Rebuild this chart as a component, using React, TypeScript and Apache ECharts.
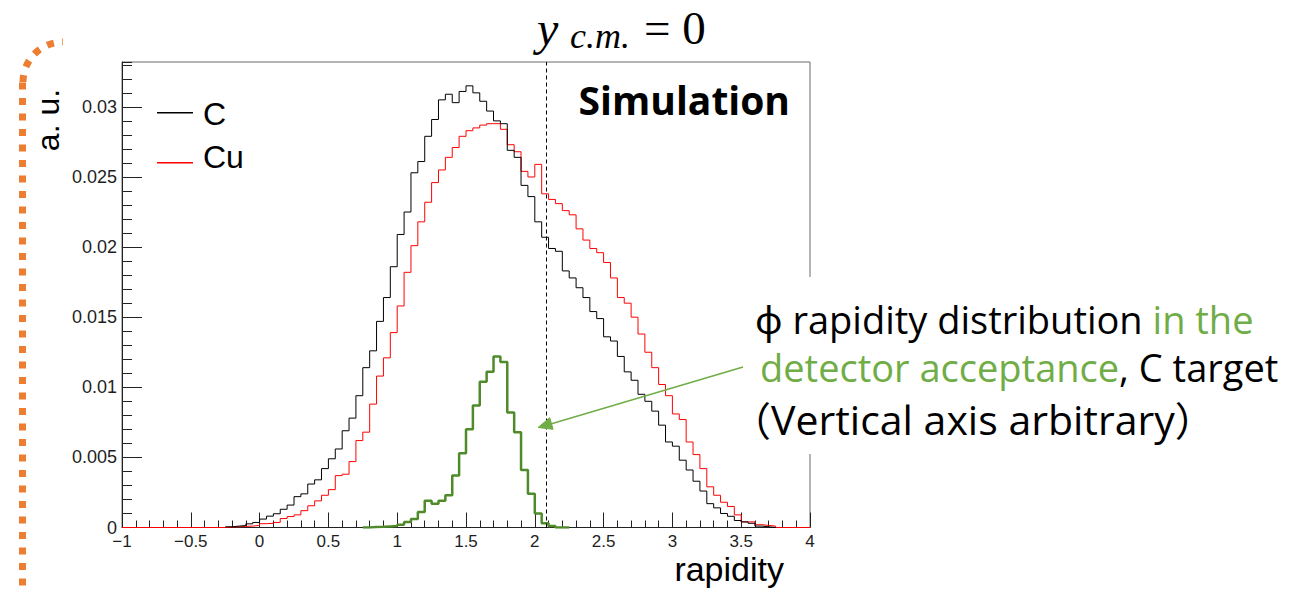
import React, { useEffect, useRef } from "react";
import * as echarts from "echarts";

// Histogram binning (rapidity), 100 bins of 0.05 from -1 to 4
const BIN_START = -1;
const BIN_WIDTH = 0.05;
const Y_CM = 2.085;

const X_MIN = -1;
const X_MAX = 4;
const X_INTERVAL = 0.5;
const Y_MIN = 0;
const Y_MAX = 0.0332;
const Y_INTERVAL = 0.005;
const Y_MINOR_INTERVAL = 0.001;

// C target (black)
const cValues: (number | null)[] = [
  null, null, null, null, null, null, null, null, null, null,
  null, null, null, null, null, 0.00005, 0.0001, 0.00014, 0.00026, 0.00036,
  0.0006, 0.00081, 0.00098, 0.0013, 0.0016, 0.0022, 0.0024, 0.0031, 0.0034, 0.0042,
  0.0049, 0.0056, 0.0069, 0.0078, 0.0094, 0.0114, 0.0126, 0.0147, 0.0164, 0.0186,
  0.0209, 0.0225, 0.0253, 0.0261, 0.0279, 0.0291, 0.0305, 0.0309, 0.0303, 0.0311,
  0.0315, 0.031, 0.0304, 0.0297, 0.029, 0.0288, 0.0269, 0.0264, 0.0244, 0.0236,
  0.0218, 0.0207, 0.0199, 0.0197, 0.0183, 0.0178, 0.0171, 0.0164, 0.0154, 0.0149,
  0.0136, 0.0133, 0.0122, 0.0111, 0.0105, 0.0095, 0.009, 0.0083, 0.0073, 0.0061,
  0.0058, 0.0048, 0.0041, 0.0033, 0.0026, 0.0017, 0.0014, 0.001, 0.0008, 0.0005,
  0.0004, 0.0003, 0.0001, 0.00005, 0, null, null, null, null, null,
];

// Cu target (red)
const cuValues: (number | null)[] = [
  0, 0, 0, 0, 0, 0, 0, 0, 0, 0,
  0, 0, 0, 0, 0, 0.00003, 0.00005, 0.00008, 0.0001, 0.00015,
  0.00027, 0.0003, 0.00036, 0.00064, 0.00078, 0.0009, 0.0012, 0.00155, 0.0019, 0.0023,
  0.0027, 0.0037, 0.0038, 0.0047, 0.0062, 0.0068, 0.0088, 0.0108, 0.0121, 0.0139,
  0.0158, 0.0182, 0.0201, 0.0218, 0.0232, 0.0246, 0.0255, 0.0264, 0.0271, 0.0279,
  0.0283, 0.0285, 0.0287, 0.0288, 0.0288, 0.0284, 0.0273, 0.0268, 0.0254, 0.025,
  0.0259, 0.0238, 0.0234, 0.0231, 0.0226, 0.0223, 0.0213, 0.0205, 0.0199, 0.0196,
  0.0189, 0.0178, 0.0164, 0.016, 0.015, 0.0138, 0.0125, 0.0114, 0.0102, 0.0094,
  0.0081, 0.0077, 0.0061, 0.0052, 0.0042, 0.0029, 0.0023, 0.0018, 0.0015, 0.0009,
  0.0004, 0.0004, 0.0002, 0.00015, 0.0001, 0, 0, 0, 0, 0,
];

// phi in detector acceptance, C target (green)
const phiValues: (number | null)[] = [
  null, null, null, null, null, null, null, null, null, null,
  null, null, null, null, null, null, null, null, null, null,
  null, null, null, null, null, null, null, null, null, null,
  null, null, null, null, null, 0, 0.00003, 0.00005, 0.00008, 0.0001,
  0.0002, 0.0004, 0.0006, 0.0011, 0.0019, 0.0017, 0.0019, 0.0023, 0.0037, 0.0053,
  0.007, 0.0087, 0.0104, 0.0111, 0.0122, 0.0118, 0.0082, 0.0068, 0.0041, 0.0024,
  0.001, 0.0003, 0.0001, 0, 0, null, null, null, null, null,
  null, null, null, null, null, null, null, null, null, null,
  null, null, null, null, null, null, null, null, null, null,
  null, null, null, null, null, null, null, null, null, null,
];

function toSteps(values: (number | null)[]): [number, number][] {
  const pts: [number, number][] = [];
  values.forEach((v, k) => {
    if (v == null) return;
    pts.push([+(BIN_START + k * BIN_WIDTH).toFixed(4), v]);
    if (k === values.length - 1 || values[k + 1] == null) {
      pts.push([+(BIN_START + (k + 1) * BIN_WIDTH).toFixed(4), v]);
    }
  });
  return pts;
}

const AXIS_FONT = '"Liberation Sans", Arial, sans-serif';
const TEXT_FONT = '"Open Sans", "Noto Sans", "Noto Sans CJK JP", sans-serif';
const CJK_FONT = '"Noto Sans CJK JP", "Noto Sans CJK SC", sans-serif';
const SERIF = '"Liberation Serif", "DejaVu Serif", serif';
const GREEN_TXT = "#70ad47";
const ORANGE = "#ed7d31";

function txt(x: number, y: number, text: string, extra: any = {}, elExtra: any = {}) {
  const align = extra.align || "left";
  const va = extra.verticalAlign || "middle";
  return {
    type: "text",
    x,
    y,
    z: 101,
    ...elExtra,
    style: {
      text,
      fill: "#000",
      fontFamily: AXIS_FONT,
      fontSize: 32,
      ...extra,
      align,
      verticalAlign: va,
      textAlign: align,
      textVerticalAlign: va,
    },
  };
}

export default function App() {
  const ref = useRef<HTMLDivElement>(null);
  useEffect(() => {
    const chart = echarts.init(ref.current!, null, { renderer: "svg" });
    const richBase = { fontFamily: TEXT_FONT, fontSize: 38 };
    const rich3 = { fontFamily: TEXT_FONT, fontSize: 41 };
    const option: any = {
      animation: false,
      backgroundColor: "#fff",
      grid: {
        left: 122,
        right: 488,
        top: 62,
        bottom: 64.5,
        show: true,
        borderColor: "#6a6a6a",
        borderWidth: 1,
        containLabel: false,
        outerBoundsMode: "none",
      },
      xAxis: {
        type: "value",
        min: X_MIN,
        max: X_MAX,
        interval: X_INTERVAL,
        axisLine: { show: true, onZero: false, lineStyle: { color: "#222", width: 1 } },
        axisTick: { show: true, inside: true, length: 15, lineStyle: { color: "#222" } },
        minorTick: { show: true, splitNumber: 5, length: 7, lineStyle: { color: "#222" } },
        splitLine: { show: false },
        minorSplitLine: { show: false },
        axisLabel: {
          margin: 7,
          fontSize: 17,
          lineHeight: 14,
          fontFamily: AXIS_FONT,
          color: "#1e1e1e",
          formatter: (v: number) => (v < 0 ? "\u2212" + Math.abs(v) : String(v)),
        },
      },
      yAxis: [
        {
          type: "value",
          min: Y_MIN,
          max: Y_MAX,
          interval: Y_INTERVAL,
          position: "left",
          axisLine: { show: true, onZero: false, lineStyle: { color: "#222", width: 1 } },
          axisTick: { show: true, inside: true, length: 20, lineStyle: { color: "#222" } },
          splitLine: { show: false },
          axisLabel: {
            margin: 5,
            fontSize: 18,
            lineHeight: 14,
            fontFamily: AXIS_FONT,
            color: "#1e1e1e",
            showMaxLabel: false,
            formatter: (v: number) => String(+v.toFixed(4)),
          },
        },
        {
          type: "value",
          min: Y_MIN,
          max: Y_MAX,
          interval: Y_MINOR_INTERVAL,
          position: "left",
          offset: 0,
          axisLine: { show: false, onZero: false },
          axisTick: { show: true, inside: true, length: 10, lineStyle: { color: "#222" } },
          splitLine: { show: false },
          axisLabel: { show: false },
        },
      ],
      series: [
        {
          name: "Cu",
          type: "line",
          step: "end",
          data: toSteps(cuValues),
          showSymbol: false,
          symbol: "none",
          lineStyle: { color: "#ff0000", width: 1 },
          itemStyle: { color: "#ff0000" },
          z: 2,
        },
        {
          name: "C",
          type: "line",
          step: "end",
          data: toSteps(cValues),
          showSymbol: false,
          symbol: "none",
          lineStyle: { color: "#000", width: 1 },
          itemStyle: { color: "#000" },
          z: 3,
          markLine: {
            silent: true,
            symbol: ["none", "none"],
            label: { show: false },
            lineStyle: { color: "#000", type: [4, 3], width: 1 },
            data: [{ xAxis: Y_CM }],
          },
        },
        {
          name: "phi",
          type: "line",
          step: "end",
          data: toSteps(phiValues),
          showSymbol: false,
          symbol: "none",
          lineStyle: { color: "#4f8a2b", width: 2.5 },
          itemStyle: { color: "#4f8a2b" },
          z: 4,
        },
      ],
      graphic: [
        // orange dotted border (slide decoration)
        {
          type: "arc",
          z: 100,
          shape: { cx: 63, cy: 82, r: 40, startAngle: Math.PI, endAngle: Math.PI * 1.5, clockwise: true },
          style: { stroke: ORANGE, lineWidth: 7, fill: null, lineDash: [7, 8.5] },
        },
        {
          type: "line",
          z: 100,
          shape: { x1: 22.5, y1: 82.5, x2: 22.5, y2: 600 },
          style: { stroke: ORANGE, lineWidth: 7, lineDash: [7, 8.5] },
        },
        // white box behind annotation
        {
          type: "rect",
          z: 100,
          shape: { x: 746, y: 277, width: 560, height: 177 },
          style: { fill: "#fff" },
        },
        // legend
        { type: "line", z: 101, shape: { x1: 157, y1: 112.7, x2: 193, y2: 112.7 }, style: { stroke: "#000", lineWidth: 1.5 } },
        { type: "line", z: 101, shape: { x1: 157, y1: 162.7, x2: 193, y2: 162.7 }, style: { stroke: "#ff0000", lineWidth: 1.5 } },
        txt(203, 114, "C", { fontSize: 32 }),
        txt(203, 157, "Cu", { fontSize: 32 }),
        // axis titles
        txt(48, 120, "a. u.", { fontSize: 32, align: "center" }, { rotation: Math.PI / 2 }),
        txt(784, 569, "rapidity", { fontSize: 34, align: "right" }),
        // Simulation
        txt(790, 99, "Simulation", { fontFamily: TEXT_FONT, fontSize: 39, fontWeight: "bold", align: "right" }),
        // y_cm = 0 title
        txt(537, 28, "y", { fontFamily: SERIF, fontStyle: "italic", fontSize: 48 }),
        txt(570, 36, "c.m.", { fontFamily: SERIF, fontStyle: "italic", fontSize: 36 }),
        txt(644, 28, "= 0", { fontFamily: SERIF, fontSize: 47 }),
        // annotation
        {
          type: "text",
          x: 755,
          y: 319,
          z: 101,
          style: {
            text: "{k|\u03d5 rapidity distribution }{g|in the}",
            align: "left",
            verticalAlign: "middle",
            textAlign: "left",
            textVerticalAlign: "middle",
            ...richBase,
            rich: { k: { ...richBase, fill: "#000" }, g: { ...richBase, fill: GREEN_TXT } },
          },
        },
        {
          type: "text",
          x: 760,
          y: 367,
          z: 101,
          style: {
            text: "{g|detector acceptance}{k|, C target}",
            align: "left",
            verticalAlign: "middle",
            textAlign: "left",
            textVerticalAlign: "middle",
            ...richBase,
            rich: { k: { ...richBase, fill: "#000" }, g: { ...richBase, fill: GREEN_TXT } },
          },
        },
        {
          type: "text",
          x: 731,
          y: 419,
          z: 101,
          style: {
            text: "{p|\uff08}{k|Vertical axis arbitrary}{p|\uff09}",
            fill: "#000",
            align: "left",
            verticalAlign: "middle",
            textAlign: "left",
            textVerticalAlign: "middle",
            ...rich3,
            rich: {
              k: { ...rich3, fill: "#000" },
              p: { fontFamily: CJK_FONT, fontSize: 40, fill: "#000" },
            },
          },
        },
        // arrow
        {
          type: "line",
          z: 101,
          shape: { x1: 743, y1: 367, x2: 549, y2: 424.5 },
          style: { stroke: GREEN_TXT, lineWidth: 1.5 },
        },
        {
          type: "polygon",
          z: 101,
          shape: { points: [[538, 427.5], [553.1, 429.3], [549.7, 417.7]] },
          style: { fill: GREEN_TXT, stroke: GREEN_TXT, lineWidth: 1 },
        },
      ],
    };
    chart.setOption(option);
    return () => chart.dispose();
  }, []);
  return (
    <div
      ref={ref}
      style={{ position: "fixed", left: 0, top: 0, width: 1298, height: 592, background: "#fff" }}
    />
  );
}
